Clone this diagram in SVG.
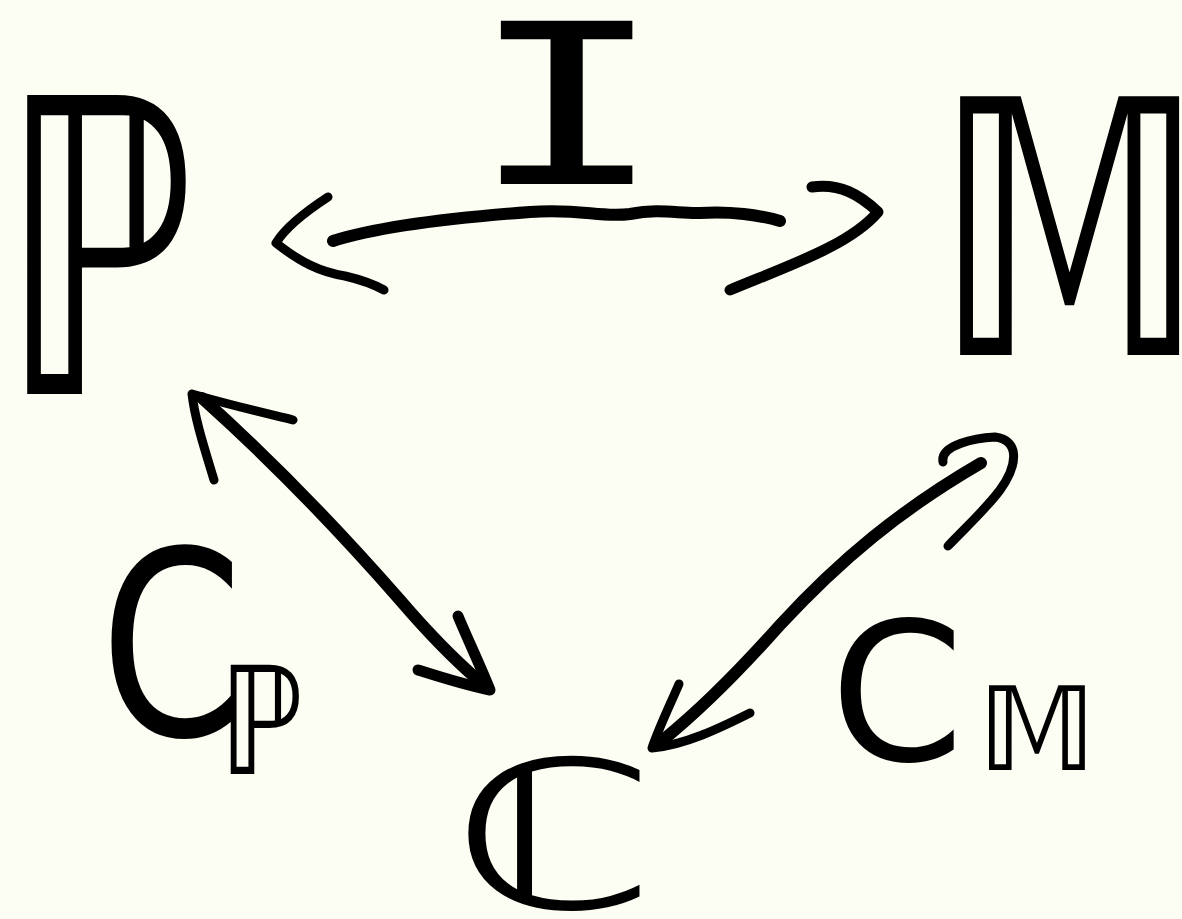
<svg xmlns="http://www.w3.org/2000/svg" width="1182" height="919" viewBox="0 0 1182 919">
<style>
.lbl{font-family:"DejaVu Sans","Noto Sans",sans-serif;fill:#000}
.mono{font-family:"DejaVu Sans Mono",monospace;fill:#000}
.arr{fill:none;stroke:#000;stroke-linecap:round;stroke-linejoin:round}
</style>
<rect width="1182" height="919" fill="#fdfef3"/>
<g id="node-P"><text class="lbl" transform="translate(0,394) scale(0.68,1)" font-size="410">ℙ</text></g>
<g id="node-M"><text class="lbl" transform="translate(935,355) scale(0.74,1)" font-size="355">𝕄</text></g>
<g id="node-C"><text class="lbl" transform="translate(452,908) scale(1.42,1)" font-size="205">ℂ</text></g>
<g id="label-I"><text class="mono" transform="translate(469,184) scale(1.45,1)" font-size="224">I</text></g>
<g id="label-CP"><text class="lbl" transform="translate(100,735) scale(0.8,1)" font-size="256">C<tspan dx="-30" dy="39" font-size="150">ℙ</tspan></text></g>
<g id="label-CM"><text class="lbl" x="830" y="760" font-size="192">C<tspan dx="14" dy="10" font-size="115">𝕄</tspan></text></g>
<g id="connectors">
<path class="arr" stroke-width="12" d="M333,241 C380,226 450,218 530,212 C580,208 600,218 630,214 C660,208 680,214 700,213 C730,211 760,215 780,221"/>
<path class="arr" stroke-width="9" d="M328,197 C305,212 285,228 276,243 C300,262 320,272 345,276 C362,280 375,285 384,290"/>
<path class="arr" stroke-width="11" d="M812,187 C840,183 860,195 878,212 C850,245 790,265 730,290"/>
<path class="arr" stroke-width="12" d="M202,398 C260,450 330,520 400,600 C430,635 455,660 478,680"/>
<path class="arr" stroke-width="9" d="M214,480 C205,450 195,420 192,394 C230,405 260,412 293,420"/>
<path class="arr" stroke-width="11" d="M458,616 C468,640 480,665 490,690 C465,685 440,677 418,670"/>
<path class="arr" stroke-width="12" d="M981,463 C900,510 840,560 780,625 C740,670 700,710 663,740"/>
<path class="arr" stroke-width="9" d="M943,462 C940,445 975,438 995,437 C1020,440 1018,465 1000,490 C985,510 965,528 948,546"/>
<path class="arr" stroke-width="9" d="M679,684 C670,705 660,725 652,748 C685,745 720,728 750,713"/>
</g>
</svg>
